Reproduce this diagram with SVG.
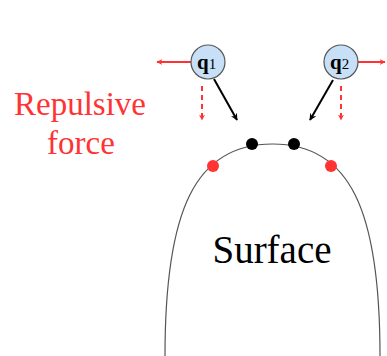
<svg xmlns="http://www.w3.org/2000/svg" width="387" height="356" viewBox="0 0 387 356">
<defs>
<style>
.red{stroke:#ff3333;stroke-width:2;fill:none}
.dash{stroke:#ff3333;stroke-width:2;fill:none;stroke-dasharray:5,4}
.blk{stroke:#000;stroke-width:2;fill:none}
.node{fill:#c7dff7;stroke:#555;stroke-width:1.2}
.t{font-family:'Liberation Serif',serif}
</style>
<marker id="ar" viewBox="0 0 10 10" refX="9" refY="5" markerWidth="6" markerHeight="6" orient="auto" markerUnits="userSpaceOnUse">
<path d="M0,0 L10,5 L0,10 L3,5 z" fill="#ff3333"/>
</marker>
<marker id="ab" viewBox="0 0 10 10" refX="9" refY="5" markerWidth="7" markerHeight="7" orient="auto" markerUnits="userSpaceOnUse">
<path d="M0,0 L10,5 L0,10 L3,5 z" fill="#000"/>
</marker>
</defs>
<rect width="387" height="356" fill="#fff"/>
<g id="surface">
<path d="M165,356 C165,210 195,144 272.5,144 C350,144 380,210 380,356" fill="none" stroke="#555" stroke-width="1.2"/>
<g class="t"><text class="t" x="272" y="263" font-size="39" text-anchor="middle" fill="#000">Surface</text></g>
</g>
<g id="points">
<circle cx="213" cy="166" r="6" fill="#ff3333"/>
<circle cx="331" cy="166" r="6" fill="#ff3333"/>
<circle cx="252" cy="144" r="6" fill="#000"/>
<circle cx="294" cy="144" r="6" fill="#000"/>
</g>
<g id="connectors">
<line class="red" x1="191" y1="62" x2="157" y2="62" marker-end="url(#ar)"/>
<line class="dash" x1="202" y1="86" x2="202" y2="120" marker-end="url(#ar)"/>
<line class="blk" x1="214" y1="79" x2="237" y2="120" marker-end="url(#ab)"/>
<line class="red" x1="358" y1="62" x2="385" y2="62" marker-end="url(#ar)"/>
<line class="dash" x1="341" y1="86" x2="341" y2="120" marker-end="url(#ar)"/>
<line class="blk" x1="333" y1="80" x2="310" y2="120" marker-end="url(#ab)"/>
</g>
<g id="q1">
<circle class="node" cx="208" cy="62" r="17"/>
<g class="t"><text class="t" x="197" y="69" font-weight="bold" font-size="21">q<tspan class="t" font-weight="normal" font-size="15">1</tspan></text></g>
</g>
<g id="q2">
<circle class="node" cx="341" cy="62" r="17"/>
<g class="t"><text class="t" x="330" y="69" font-weight="bold" font-size="21">q<tspan class="t" font-weight="normal" font-size="15">2</tspan></text></g>
</g>
<g id="label">
<g class="t">
<text class="t" x="80" y="115" font-size="33" fill="#ff3333" text-anchor="middle">Repulsive</text>
<text class="t" x="81" y="154" font-size="33" fill="#ff3333" text-anchor="middle">force</text>
</g>
</g>
</svg>
